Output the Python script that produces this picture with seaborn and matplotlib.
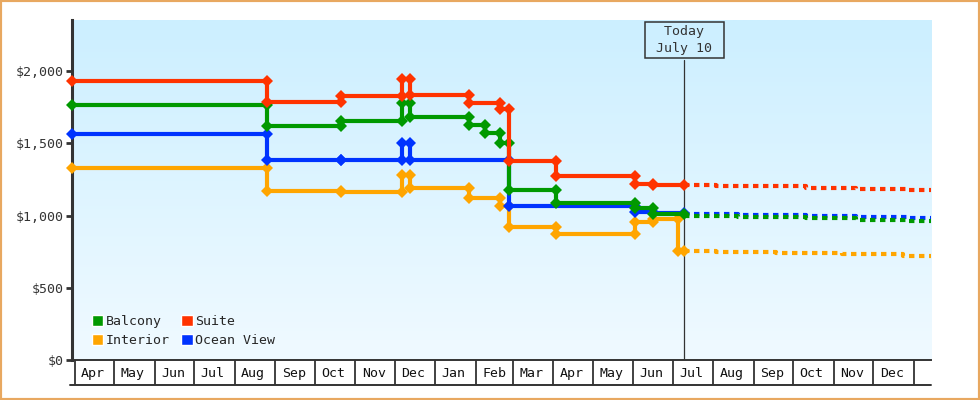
import matplotlib.pyplot as plt
import matplotlib.dates as mdates
from matplotlib.patches import Patch, Rectangle
from matplotlib.lines import Line2D
from matplotlib.colors import LinearSegmentedColormap
from matplotlib.ticker import FuncFormatter
import numpy as np
import pandas as pd
import seaborn as sns

# Cabin categories and colours
cabins = ['Interior', 'Ocean View', 'Balcony', 'Suite']  # draw order
legend_order = ['Balcony', 'Interior', 'Suite', 'Ocean View']
colors = {'Balcony': '#009900', 'Suite': '#ff3300', 'Interior': '#ffa500', 'Ocean View': '#0033ff'}

axis_start = '2022-03-30'
axis_end = '2024-01-14'
today = '2023-07-10'

# Price history: each price holds from its date until the next change
suite_dates = ['2022-03-30', '2022-08-26', '2022-10-21', '2022-12-07', '2022-12-13', '2023-01-27',
               '2023-02-19', '2023-02-26', '2023-04-03', '2023-06-02', '2023-06-16']
suite_prices = [1931, 1788, 1827, 1945, 1834, 1781, 1740, 1377, 1273, 1218, 1209]

balcony_dates = ['2022-03-30', '2022-08-26', '2022-10-21', '2022-12-07', '2022-12-13', '2023-01-27',
                 '2023-02-08', '2023-02-19', '2023-02-26', '2023-04-03', '2023-06-02', '2023-06-16']
balcony_prices = [1765, 1621, 1654, 1781, 1680, 1626, 1573, 1500, 1176, 1089, 1050, 1008]

ocean_dates = ['2022-03-30', '2022-08-26', '2022-10-21', '2022-12-07', '2022-12-13', '2023-02-26',
               '2023-06-02', '2023-06-16']
ocean_prices = [1564, 1386, 1386, 1504, 1386, 1068, 1024, 1014]

interior_dates = ['2022-03-30', '2022-08-26', '2022-10-21', '2022-12-07', '2022-12-13', '2023-01-27',
                  '2023-02-19', '2023-02-26', '2023-04-03', '2023-06-02', '2023-06-16', '2023-07-05']
interior_prices = [1329, 1172, 1161, 1280, 1188, 1119, 1068, 922, 872, 953, 974, 752]

# Projected prices after today
suite_proj_dates = ['2023-07-10', '2023-08-03', '2023-10-11', '2023-11-18', '2023-12-27']
suite_proj_prices = [1209, 1204, 1190, 1184, 1175]
balcony_proj_dates = ['2023-07-10', '2023-08-20', '2023-10-11', '2023-11-18', '2023-12-27']
balcony_proj_prices = [1000, 993, 983, 972, 960]
ocean_proj_dates = ['2023-07-10', '2023-08-20', '2023-10-11', '2023-11-18', '2023-12-27']
ocean_proj_prices = [1010, 1002, 995, 988, 980]
interior_proj_dates = ['2023-07-10', '2023-08-03', '2023-09-18', '2023-11-07', '2023-12-24']
interior_proj_prices = [754, 746, 739, 731, 723]


def steps(cabin, dates, prices, end):
    # turn change points into step-line vertices
    rows = []
    for i, (d, p) in enumerate(zip(dates, prices)):
        if i > 0:
            rows.append((d, prices[i - 1]))
        rows.append((d, p))
    rows.append((end, prices[-1]))
    df = pd.DataFrame(rows, columns=['date', 'price'])
    df['date'] = pd.to_datetime(df['date'])
    df['cabin'] = cabin
    return df


hist = pd.concat([
    steps('Interior', interior_dates, interior_prices, today),
    steps('Ocean View', ocean_dates, ocean_prices, today),
    steps('Balcony', balcony_dates, balcony_prices, today),
    steps('Suite', suite_dates, suite_prices, today),
])
proj = pd.concat([
    steps('Interior', interior_proj_dates, interior_proj_prices, axis_end),
    steps('Ocean View', ocean_proj_dates, ocean_proj_prices, axis_end),
    steps('Balcony', balcony_proj_dates, balcony_proj_prices, axis_end),
    steps('Suite', suite_proj_dates, suite_proj_prices, axis_end),
])

sns.set_style('white')
plt.rcParams['font.family'] = 'DejaVu Sans Mono'
plt.rcParams['font.size'] = 9.5

fig, ax = plt.subplots(figsize=(9.8, 4), dpi=100)
fig.subplots_adjust(left=72 / 980, right=931 / 980, bottom=40 / 400, top=380 / 400)

# gradient background on its own axes behind the plot
bg = fig.add_axes(ax.get_position(), zorder=-1)
grad = np.linspace(0, 1, 256).reshape(-1, 1)
bg.imshow(grad, cmap=LinearSegmentedColormap.from_list('bg', ['#f0faff', '#ccefff']),
          aspect='auto', origin='lower', extent=[0, 1, 0, 1])
bg.axis('off')
ax.patch.set_alpha(0)

ax.axvline(pd.Timestamp(today), ymin=0, ymax=300 / 340, color='#333333', lw=0.9, zorder=2)

sns.lineplot(data=proj, x='date', y='price', hue='cabin', hue_order=cabins, palette=colors,
             estimator=None, sort=False, lw=3, linestyle=(0, (1.3, 1.1)), legend=False, ax=ax, zorder=3)
sns.lineplot(data=hist, x='date', y='price', hue='cabin', hue_order=cabins, palette=colors,
             estimator=None, sort=False, lw=3, marker='D', markersize=6.5, markeredgewidth=0,
             legend=False, ax=ax, zorder=4, clip_on=False)

ax.text(pd.Timestamp(today), 320 / 340, ' Today \n July 10 ', transform=ax.get_xaxis_transform(),
        ha='center', va='center', fontsize=9.5, color='#333333', linespacing=1.4,
        bbox=dict(boxstyle='square,pad=0.25', fc='none', ec='#333333', lw=1.1))

ax.set_xlim(pd.Timestamp(axis_start), pd.Timestamp(axis_end))
ax.set_ylim(0, 2353)
ax.set_xlabel('')
ax.set_ylabel('')

ax.set_yticks([0, 500, 1000, 1500, 2000])
ax.yaxis.set_major_formatter(FuncFormatter(lambda v, _: f'${v:,.0f}'))
ax.tick_params(axis='y', left=True, length=4, width=2, color='#333333', pad=2, labelcolor='#333333')

ax.xaxis.set_major_locator(mdates.MonthLocator(bymonthday=15))
ax.xaxis.set_major_formatter(mdates.DateFormatter('%b'))
ax.xaxis.set_minor_locator(mdates.MonthLocator())
ax.tick_params(axis='x', which='major', length=0, pad=5, labelcolor='#111111')
ax.tick_params(axis='x', which='minor', bottom=True, length=18, width=1.3, color='#333333')

sns.despine(ax=ax)
ax.spines['left'].set_linewidth(2.2)
ax.spines['left'].set_color('#333333')
ax.spines['bottom'].set_linewidth(1.4)
ax.spines['bottom'].set_color('#333333')

# bottom edge of the month cells
fig.add_artist(Line2D([70 / 980, 931 / 980], [15 / 400, 15 / 400], color='#333333', lw=1.4))

# Legend
legend_elements = [Patch(facecolor=colors[c], label=c) for c in legend_order]
ax.legend(handles=legend_elements, ncol=2, loc='lower left', bbox_to_anchor=(0.009, 0.003),
          frameon=False, handlelength=0.9, handleheight=0.9, handletextpad=0.15,
          columnspacing=0.9, labelspacing=0.45, fontsize=9.5)

# orange frame around the whole picture
fig.add_artist(Rectangle((0, 0), 1, 1, transform=fig.transFigure, fill=False, ec='#e8a860', lw=3))

fig.savefig('out.png', dpi=100)
